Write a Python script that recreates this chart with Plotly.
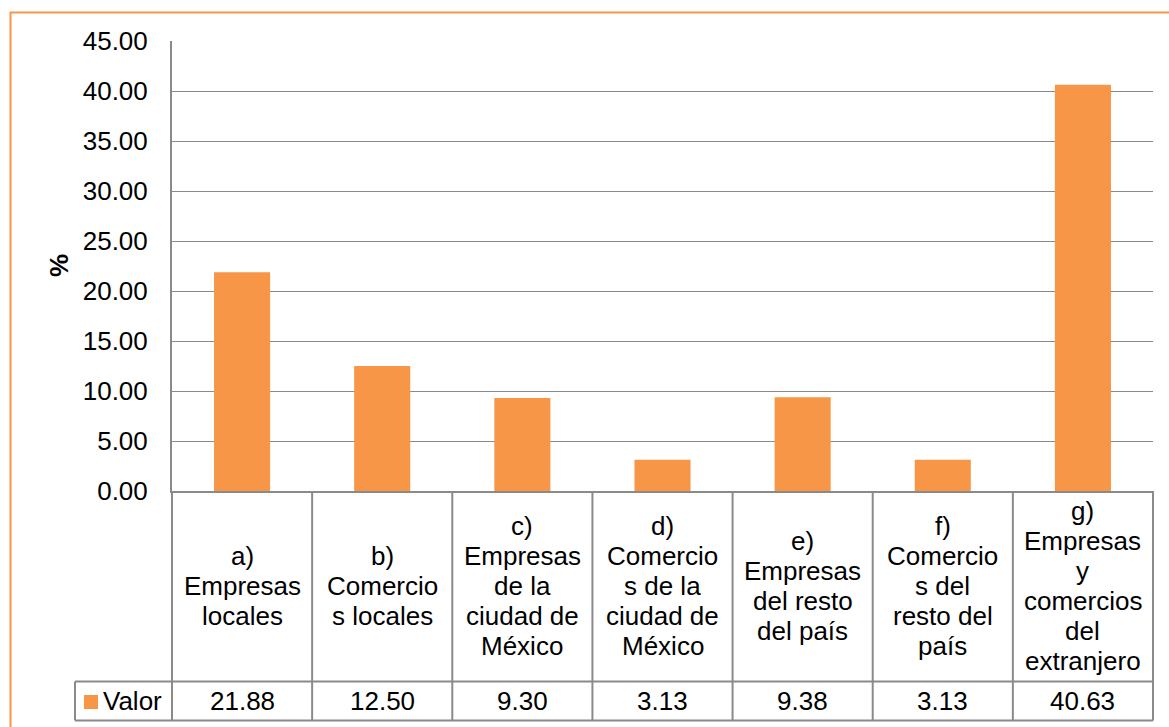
import plotly.graph_objects as go

categories = [
    "a)\nEmpresas\nlocales",
    "b)\nComercio\ns locales",
    "c)\nEmpresas\nde la\nciudad de\nMéxico",
    "d)\nComercio\ns de la\nciudad de\nMéxico",
    "e)\nEmpresas\ndel resto\ndel país",
    "f)\nComercio\ns del\nresto del\npaís",
    "g)\nEmpresas\ny\ncomercios\ndel\nextranjero",
]
values = [21.88, 12.50, 9.30, 3.13, 9.38, 3.13, 40.63]
series_name = "Valor"
y_title = "%"

W, H = 1169, 727
L, R, T, B = 172, 1153, 41, 491
ORANGE = "#F79646"
GRID = "#8a8a8a"
FONT = "Liberation Sans, Arial, sans-serif"
FS = 26


def px(p):
    return (p - L) / (R - L)


def py(p):
    return (B - p) / (B - T)


xs = list(range(len(values)))

fig = go.Figure()
fig.add_trace(go.Bar(
    x=xs, y=values, width=0.4, marker=dict(color=ORANGE, line=dict(width=0)),
    name=series_name, showlegend=False, hoverinfo="y",
))

shapes = []
annotations = []

cat_row_bottom = 681.5
val_row_bottom = 720.5
legend_left = 75

# vertical table lines
for i in range(len(values) + 1):
    xv = i - 0.5
    if i == 0 or i == len(values):
        shapes.append(dict(type="line", xref="paper", yref="paper",
                           x0=0 if i == 0 else 1, x1=0 if i == 0 else 1,
                           y0=py(val_row_bottom), y1=py(B),
                           line=dict(color=GRID, width=2)))
    else:
        shapes.append(dict(type="line", xref="x", yref="paper", x0=xv, x1=xv,
                           y0=py(val_row_bottom), y1=py(B),
                           line=dict(color=GRID, width=2)))
# horizontal table lines
for yy in (cat_row_bottom, val_row_bottom):
    shapes.append(dict(type="line", xref="paper", yref="paper",
                       x0=px(legend_left), x1=1, y0=py(yy), y1=py(yy),
                       line=dict(color=GRID, width=2)))
# legend cell left edge
shapes.append(dict(type="line", xref="paper", yref="paper",
                   x0=px(legend_left), x1=px(legend_left),
                   y0=py(cat_row_bottom), y1=py(val_row_bottom),
                   line=dict(color=GRID, width=2)))
# legend key
shapes.append(dict(type="rect", xref="paper", yref="paper",
                   x0=px(84), x1=px(98), y0=py(709), y1=py(695),
                   fillcolor=ORANGE, line=dict(width=0)))
# outer orange border
shapes.append(dict(type="rect", xref="paper", yref="paper",
                   x0=px(10.5), x1=px(1300), y0=py(900), y1=py(12.5),
                   fillcolor="rgba(0,0,0,0)", line=dict(color=ORANGE, width=2)))

# category labels, one annotation per line
cell_center = (B + cat_row_bottom) / 2
line_gap = 30
for i, cat in enumerate(categories):
    lines = cat.split("\n")
    n = len(lines)
    for k, ln in enumerate(lines):
        yc = cell_center + (k - (n - 1) / 2) * line_gap
        annotations.append(dict(x=i, y=py(yc), xref="x", yref="paper", text=ln,
                                showarrow=False, xanchor="center", yanchor="middle",
                                font=dict(family=FONT, size=FS, color="#000000")))
    annotations.append(dict(x=i, y=py((cat_row_bottom + val_row_bottom) / 2), xref="x",
                            yref="paper", text=f"{values[i]:.2f}", showarrow=False,
                            xanchor="center", yanchor="middle",
                            font=dict(family=FONT, size=FS, color="#000000")))

annotations.append(dict(x=px(101), y=py((cat_row_bottom + val_row_bottom) / 2),
                        xref="paper", yref="paper", text=series_name, showarrow=False,
                        xanchor="left", yanchor="middle",
                        font=dict(family=FONT, size=FS, color="#000000")))
annotations.append(dict(x=px(59), y=0.5, xref="paper", yref="paper",
                        text="<b>" + y_title + "</b>", showarrow=False, textangle=-90,
                        xanchor="center", yanchor="middle",
                        font=dict(family=FONT, size=FS, color="#000000")))

fig.update_layout(
    width=W, height=H,
    margin=dict(l=L, r=W - R, t=T, b=H - B, pad=0),
    paper_bgcolor="white", plot_bgcolor="white",
    bargap=0.6,
    shapes=shapes, annotations=annotations,
    font=dict(family=FONT, size=FS, color="#000000"),
    xaxis=dict(range=[-0.5, len(values) - 0.5], showticklabels=False, showgrid=False,
               zeroline=False, showline=True, linecolor=GRID, linewidth=2,
               fixedrange=True),
    yaxis=dict(range=[0, 45], dtick=5, tickformat=".2f", showgrid=True,
               gridcolor=GRID, gridwidth=1, zeroline=False, showline=True,
               linecolor=GRID, linewidth=2, ticks="", ticklabelstandoff=17,
               tickfont=dict(family=FONT, size=FS, color="#000000"),
               fixedrange=True),
)

fig.write_html("out.html")
